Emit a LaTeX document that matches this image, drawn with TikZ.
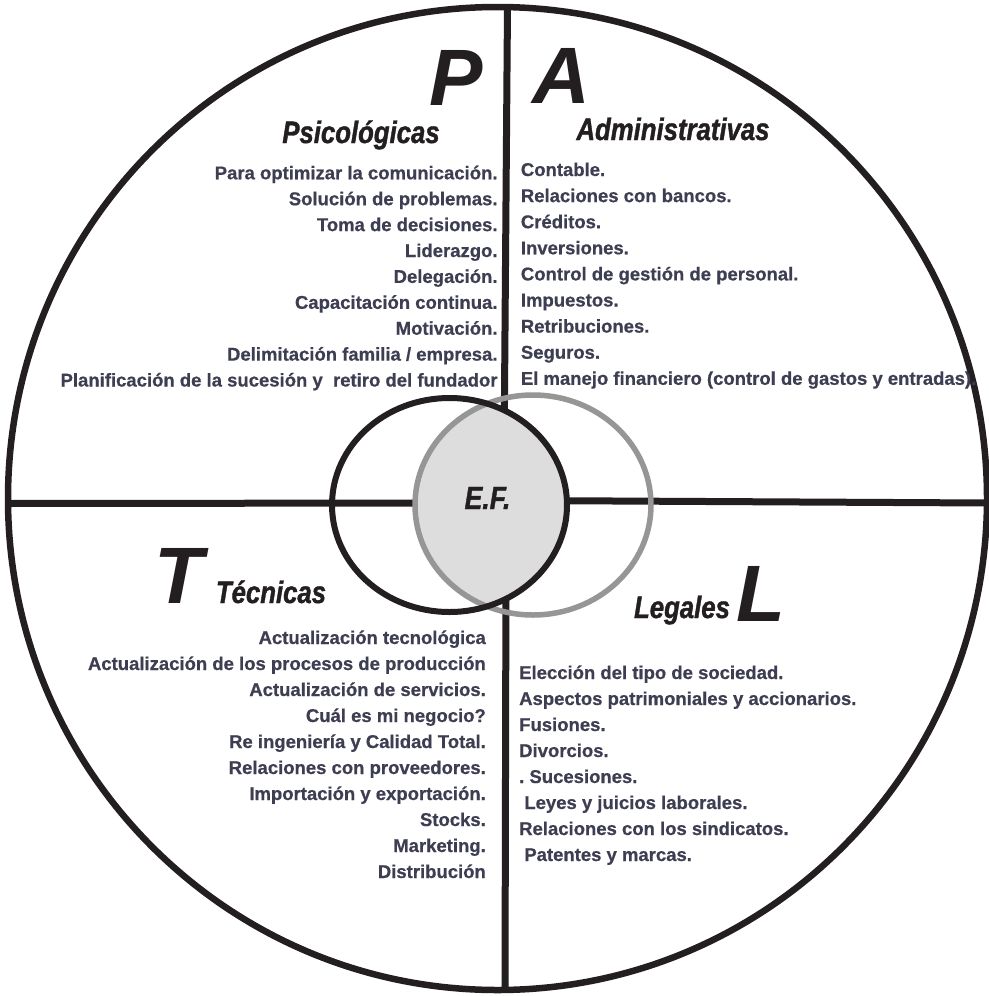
\documentclass[tikz,border=0pt]{standalone}
\usepackage{fontspec}
\setmainfont{Liberation Sans}
\newfontfamily\headfont[FakeStretch=0.83,
  UprightFont=*, BoldFont=* Bold, ItalicFont=* Italic,
  BoldItalicFont=* Bold Italic, BoldItalicFeatures={FakeBold=1.2}]{Liberation Sans}
\newfontfamily\itemfont[UprightFont=*, BoldFont=* Bold,
  BoldFeatures={FakeBold=0.6}]{Liberation Sans}
\frenchspacing
\definecolor{ink}{RGB}{35,31,32}
\definecolor{txt}{RGB}{62,62,82}
\definecolor{lensfill}{RGB}{221,221,221}
\definecolor{rim}{RGB}{150,150,150}
\tikzset{
  item/.style={inner sep=0pt, text=txt, font=\itemfont\bfseries\fontsize{18.5}{22}\selectfont},
  head/.style={inner sep=0pt, text=ink, font=\headfont\bfseries\itshape\fontsize{31}{34}\selectfont},
  bigletter/.style={inner sep=0pt, text=ink, font=\bfseries\itshape\fontsize{80}{90}\selectfont},
  divider/.style={draw=ink, line width=7pt},
  rimline/.style={draw=ink, line width=6.5pt},
}
\begin{document}
\begin{tikzpicture}[x=1pt,y=-1pt]
\useasboundingbox (0,0) rectangle (988,996);
\fill[white] (0,0) rectangle (988,996);

% end points of the two dividing lines
\coordinate (vTop) at (507.5,6);
\coordinate (vUp) at (504,460);
\coordinate (vLow) at (506,560);
\coordinate (vBot) at (505,992);
\coordinate (hLeft) at (6,503.5);
\coordinate (hIn) at (470,503);
\coordinate (hOut) at (520,500.5);
\coordinate (hRight) at (988,503);

\draw[divider] (vTop) -- (vUp);
\draw[divider] (vLow) -- (vBot);
\draw[divider] (hLeft) -- (hIn);
\draw[divider] (hOut) -- (hRight);

% outer circle
\coordinate (C) at (497.5,498.5);
\draw[rimline] (C) ellipse [x radius=489.5, y radius=491.5];

% overlapping ellipses with shaded lens
\coordinate (eL) at (449.5,505);
\coordinate (eR) at (533,505);
\begin{scope}
  \clip (eL) ellipse [x radius=117.5, y radius=107];
  \fill[lensfill] (eR) ellipse [x radius=118, y radius=110];
\end{scope}
\draw[rim, line width=5.5pt] (eR) ellipse [x radius=118, y radius=110];
\draw[ink, line width=6pt] (eL) ellipse [x radius=117.5, y radius=107];

\node[head, font=\headfont\bfseries\itshape\fontsize{32}{34}\selectfont, anchor=base] (ef) at (487.5,509) {E.F.};

% quadrant letters and headings
\node[bigletter, anchor=base] (P) at (456,105) {P};
\node[bigletter, anchor=base] (A) at (561,103) {A};
\node[bigletter, anchor=base] (T) at (179,603) {T};
\node[bigletter, anchor=base] (L) at (761,621) {L};

\node[head, anchor=base] (hP) at (361,143) {Psicológicas};
\node[head, anchor=base] (hA) at (673,140) {Administrativas};
\node[head, anchor=base] (hT) at (271,603) {Técnicas};
\node[head, anchor=base] (hL) at (682,618) {Legales};

% item lists
\foreach \t [count=\i] in {
  {Para optimizar la comunicación.},
  {Solución de problemas.},
  {Toma de decisiones.},
  {Liderazgo.},
  {Delegación.},
  {Capacitación continua.},
  {Motivación.},
  {Delimitación familia / empresa.},
  {Planificación de la sucesión y~ retiro del fundador}}
  \node[item, anchor=base east] (p\i) at (497.7,{179.3+25.9*(\i-1)}) {\t};

\foreach \t [count=\i] in {
  {Contable.},
  {Relaciones con bancos.},
  {Créditos.},
  {Inversiones.},
  {Control de gestión de personal.},
  {Impuestos.},
  {Retribuciones.},
  {Seguros.},
  {El manejo financiero (control de gastos y entradas).}}
  \node[item, anchor=base west] (a\i) at (520.7,{176+26.1*(\i-1)}) {\t};

\foreach \t [count=\i] in {
  {Actualización tecnológica},
  {Actualización de los procesos de producción},
  {Actualización de servicios.},
  {Cuál es mi negocio?},
  {Re ingeniería y Calidad Total.},
  {Relaciones con proveedores.},
  {Importación y exportación.},
  {Stocks.},
  {Marketing.},
  {Distribución}}
  \node[item, anchor=base east] (t\i) at (486,{644+26*(\i-1)}) {\t};

\foreach \t [count=\i] in {
  {Elección del tipo de sociedad.},
  {Aspectos patrimoniales y accionarios.},
  {Fusiones.},
  {Divorcios.},
  {. Sucesiones.},
  {\ Leyes y juicios laborales.},
  {Relaciones con los sindicatos.},
  {\ Patentes y marcas.}}
  \node[item, anchor=base west] (l\i) at (519,{679+26*(\i-1)}) {\t};
\end{tikzpicture}
\end{document}
